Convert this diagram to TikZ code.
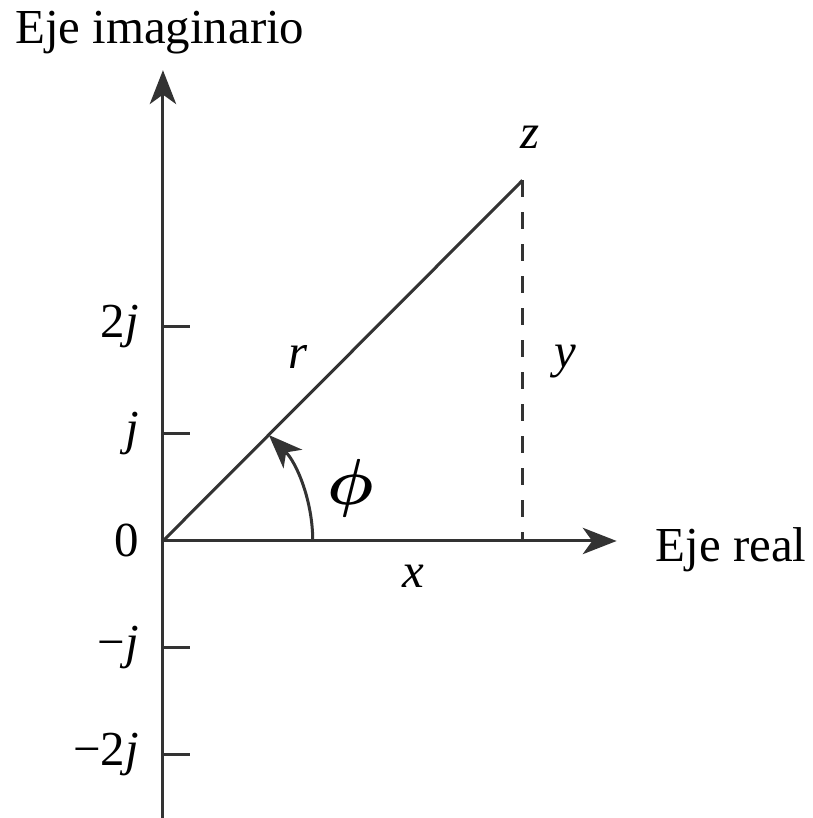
\documentclass[tikz,border=0pt]{standalone}
\usepackage{amsmath}
\usepackage{fontspec}
\setmainfont{Liberation Serif}
\usetikzlibrary{arrows.meta}
\definecolor{axisGray}{HTML}{333333}
\tikzset{
  axis/.style={-{Stealth[length=9pt,width=7pt,inset=2.5pt]}, line width=0.8pt, axisGray},
  angarr/.style={-{Stealth[length=9pt,width=7pt,inset=2.5pt]}, line width=0.8pt, axisGray},
  tickmark/.style={line width=0.8pt, axisGray},
  vec/.style={line width=0.8pt, axisGray},
  proj/.style={line width=0.7pt, axisGray, dash pattern=on 4.5pt off 4pt},
  lbl/.style={font=\fontsize{13}{15}\selectfont, inner sep=0pt, text=black}
}
\begin{document}
\begin{tikzpicture}[x=1cm,y=1cm]
  \useasboundingbox (-1.523,-2.589) rectangle (6.075,5.056);
  % axes
  \coordinate (O) at (0,0);
  \coordinate (Ybot) at (0,-2.62);
  \coordinate (Ytop) at (0,4.40);
  \coordinate (Xend) at (4.24,0);
  \draw[axis] (Ybot) -- (Ytop);
  \draw[axis] (O) -- (Xend);
  \node[lbl,anchor=base] (imlbl) at (-0.03,4.65) {Eje imaginario};
  \node[lbl,anchor=base west] (relbl) at (4.60,-0.196) {Eje real};
  % ticks
  \foreach \k in {2,1,-1,-2}{
    \coordinate (tk\k) at (0,\k);
    \draw[tickmark] (tk\k) -- ++(0.25,0);
  }
  \foreach \k/\t/\n in {2/2\textit{j}/tpa,1/\textit{j}/tpb,0/0/tz,-1/−\textit{j}/tma,-2/−2\textit{j}/tmb}{
    \node[lbl,anchor=east] (\n) at (-0.22,\k) {\t};
  }
  % vector z
  \coordinate (Z) at (3.36,3.37);
  \coordinate (Zx) at (Z |- O);
  \draw[vec] (O) -- (Z);
  \draw[proj] (Z) -- (Zx);
  \coordinate (A0) at (1.40,0);
  \draw[angarr] (A0) arc[start angle=0,end angle=45,radius=1.40];
  \node[lbl] (zlbl) at (3.43,3.77) {\textit{z}};
  \node[lbl] (rlbl) at (1.26,1.72) {\textit{r}};
  \node[lbl] (ylbl) at (3.76,1.68) {\textit{y}};
  \node[lbl,font=\fontsize{18}{20}\selectfont] (philbl) at (1.75,0.49) {$\boldsymbol{\phi}$};
  \node[lbl] (xlbl) at (2.34,-0.33) {\textit{x}};
\end{tikzpicture}
\end{document}
